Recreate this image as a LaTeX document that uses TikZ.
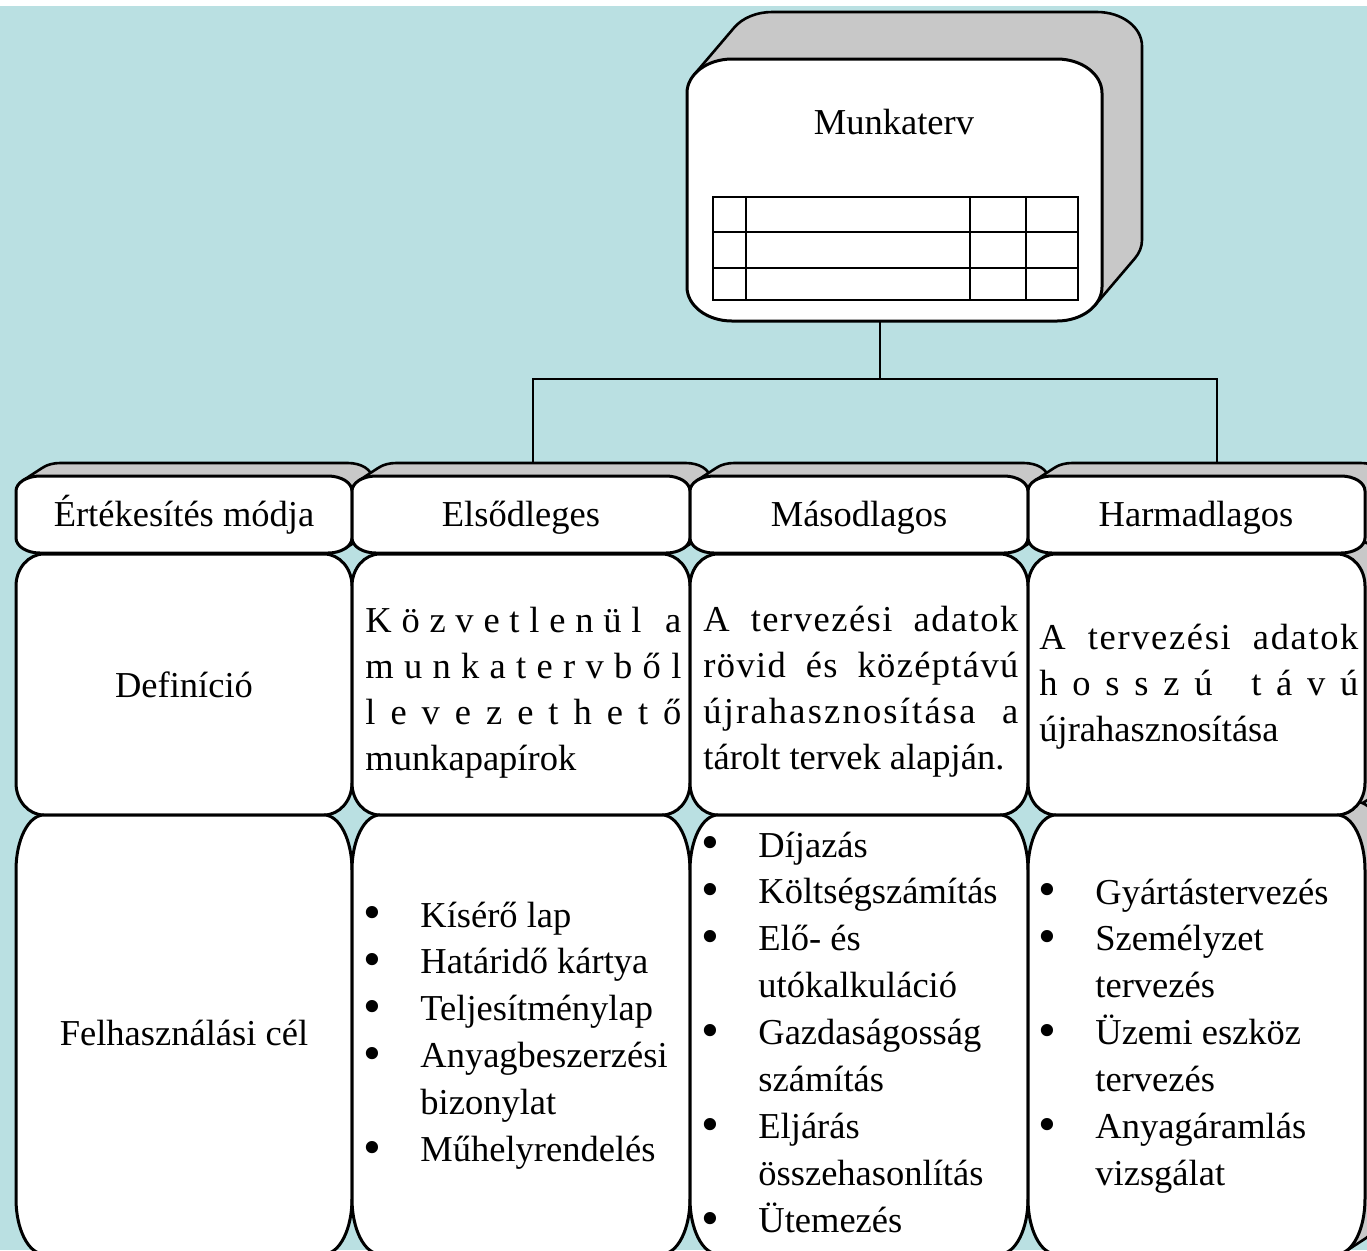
\documentclass[tikz,border=0pt]{standalone}
\usepackage{graphicx}
\usepackage{fontspec}
\setmainfont{Liberation Serif}
\definecolor{bgteal}{RGB}{186,224,226}
\definecolor{shadegray}{RGB}{200,200,200}

% rounded rectangle with elliptic corners: x0 y0 x1 y1 rx ry (y grows downwards)
\newcommand\rrpath[6]{({#1+#5},#2) -- ({#3-#5},#2)
  arc[start angle=270,end angle=360,x radius=#5,y radius=#6] -- (#3,{#4-#6})
  arc[start angle=0,end angle=90,x radius=#5,y radius=#6] -- ({#1+#5},#4)
  arc[start angle=90,end angle=180,x radius=#5,y radius=#6] -- (#1,{#2+#6})
  arc[start angle=180,end angle=270,x radius=#5,y radius=#6] -- cycle}

% depth band of an extruded rounded rectangle:
% x0 y0 x1 y1 rx ry dx dy theta (theta = tangent angle at the top-left corner)
\newcommand\depthpath[9]{({#1+#5+#5*cos(#9)},{#2+#6+#6*sin(#9)}) -- ++({#7},{#8})
  arc[start angle=#9,end angle=270,x radius=#5,y radius=#6] -- ({#3-#5+(#7)},{#2+(#8)})
  arc[start angle=270,end angle=360,x radius=#5,y radius=#6] -- ({#3+(#7)},{#4-#6+(#8)})
  arc[start angle=0,end angle={#9-180},x radius=#5,y radius=#6]
  -- ({#3-#5+#5*cos(#9-180)},{#4-#6+#6*sin(#9-180)}) -- cycle}

% list bullet
\newcommand\bul{\makebox[27pt][l]{\hspace*{-1.4pt}\raisebox{-0.08em}{\scalebox{1.4}{•}}}}

% fully justified line: extra space spread between letters, more between words
\makeatletter
\def\wordweight{2}
\newcommand\lettergap{\hskip 0pt plus 1fil\relax}
\newcommand\wordgap{\hskip 0.25em plus \wordweight fil\relax}
\def\spr@end{\spr@end}
\newcommand\spreadtext[1]{\spr@#1\spr@end}
\def\spr@{\futurelet\spr@next\spr@check}
\def\spr@check{%
  \ifx\spr@next\spr@end
    \let\spr@do\spr@finish
  \else\ifx\spr@next\@sptoken
    \let\spr@do\spr@space
  \else
    \let\spr@do\spr@letter
  \fi\fi
  \spr@do}
\def\spr@finish\spr@end{\unskip}
\expandafter\def\expandafter\spr@space\space{\unskip\wordgap\spr@}
\def\spr@letter#1{#1\lettergap\spr@}
\makeatother
\newcommand\jline[3][2]{\hbox to #2{\def\wordweight{#1}\spreadtext{#3}}}

\begin{document}
\begin{tikzpicture}[x=0.5pt,y=-0.5pt,
  every node/.style={inner sep=0pt, font=\fontsize{18.25}{23.45}\selectfont},
  paratext/.style={font=\fontsize{18.25}{23.1}\selectfont},
  frontbox/.style={draw=black, line width=1.5pt, fill=white, line join=round},
  depthbox/.style={draw=black, line width=1.3pt, fill=shadegray, line join=round},
  connector/.style={draw=black, line width=0.9pt},
  gridline/.style={draw=black, line width=1pt}]

% page and background
\fill[white] (0,0) rectangle (1367,1250);
\fill[bgteal] (0,6) rectangle (1367,1250);
\useasboundingbox (0,0) rectangle (1367,1250);

% ---- top box: Munkaterv ----
\path[depthbox] \depthpath{687}{59}{1102}{321}{45}{34}{40}{-47}{212.7};
\path[frontbox] \rrpath{687}{59}{1102}{321}{45}{34};
\draw[gridline] (713,197) rectangle (1078,300);
\draw[gridline] (713,232) -- (1078,232) (713,268) -- (1078,268)
  (746,197) -- (746,300) (970,197) -- (970,300) (1026,197) -- (1026,300);
\node[anchor=base] (munka) at (894,134) {Munkaterv};

% ---- connectors ----
\coordinate (munkaB) at (880,321);
\coordinate (junc) at (880,379);
\coordinate (h2top) at (533,463);
\coordinate (h4top) at (1217,463);
\draw[connector] (munkaB) -- (junc);
\draw[connector] (h2top) |- (junc) -| (h4top);

% ---- depth bands of the header row and the last column ----
\path[depthbox] \depthpath{16}{476}{352}{553}{24}{15}{20}{-13}{223.9};
\path[depthbox] \depthpath{352}{476}{690}{553}{24}{15}{20}{-13}{223.9};
\path[depthbox] \depthpath{690}{476}{1028}{553}{24}{15}{20}{-13}{223.9};
\path[depthbox] \depthpath{1028}{476}{1365}{553}{24}{15}{20}{-13}{223.9};
\path[depthbox] \depthpath{1028}{554}{1365}{815}{28}{32}{20}{-13}{240.4};
\path[depthbox] \depthpath{1028}{815}{1365}{1254}{28}{55}{20}{-13}{251.7};

% ---- cells ----
\foreach \xa/\xb in {16/352,352/690,690/1028,1028/1365} {
  \path[frontbox] \rrpath{\xa}{476}{\xb}{553}{24}{15};
  \path[frontbox] \rrpath{\xa}{554}{\xb}{815}{28}{32};
  \path[frontbox] \rrpath{\xa}{815}{\xb}{1254}{28}{55};
}

% ---- header row ----
\node[anchor=base] (h1) at (184,526) {Értékesítés módja};
\node[anchor=base] (h2) at (521,526) {Elsődleges};
\node[anchor=base] (h3) at (859,526) {Másodlagos};
\node[anchor=base] (h4) at (1196,526) {Harmadlagos};

% ---- definition row ----
\node[anchor=base] (d1) at (184,697) {Definíció};
\node[anchor=base west, paratext] (d2) at (365,632) {\begin{tabular}[t]{@{}l@{}}
  \jline[1.5]{158pt}{Közvetlenül a}\\
  \jline{158pt}{munkatervből}\\
  \jline{158pt}{levezethető}\\
  munkapapírok
\end{tabular}};
\node[anchor=base west, paratext] (d3) at (703,631) {\begin{tabular}[t]{@{}l@{}}
  \jline[8]{157.5pt}{A tervezési adatok}\\
  \jline[8]{157.5pt}{rövid és középtávú}\\
  \jline[8]{157.5pt}{újrahasznosítása a}\\
  tárolt tervek alapján.
\end{tabular}};
\node[anchor=base west, paratext] (d4) at (1039,649) {\begin{tabular}[t]{@{}l@{}}
  \jline[8]{159.5pt}{A tervezési adatok}\\
  \jline{159.5pt}{hosszú távú}\\
  újrahasznosítása
\end{tabular}};

% ---- purpose row ----
\node[anchor=base] (u1) at (184,1045) {Felhasználási cél};
\node[anchor=base west] (u2) at (366,927) {\begin{tabular}[t]{@{}l@{}l@{}}
  \bul & Kísérő lap\\
  \bul & Határidő kártya\\
  \bul & Teljesítménylap\\
  \bul & Anyagbeszerzési\\
       & bizonylat\\
  \bul & Műhelyrendelés
\end{tabular}};
\node[anchor=base west] (u3) at (704,857) {\begin{tabular}[t]{@{}l@{}l@{}}
  \bul & Díjazás\\
  \bul & Költségszámítás\\
  \bul & Elő- és\\
       & utókalkuláció\\
  \bul & Gazdaságosság\\
       & számítás\\
  \bul & Eljárás\\
       & összehasonlítás\\
  \bul & Ütemezés
\end{tabular}};
\node[anchor=base west] (u4) at (1041,904) {\begin{tabular}[t]{@{}l@{}l@{}}
  \bul & Gyártástervezés\\
  \bul & Személyzet\\
       & tervezés\\
  \bul & Üzemi eszköz\\
       & tervezés\\
  \bul & Anyagáramlás\\
       & vizsgálat
\end{tabular}};

\end{tikzpicture}
\end{document}
